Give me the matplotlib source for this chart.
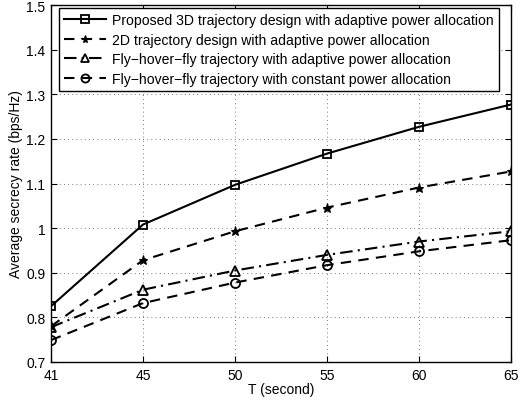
import numpy as np
import matplotlib
matplotlib.use('Agg')
import matplotlib.pyplot as plt

plt.rcParams['font.family'] = ['Liberation Sans', 'DejaVu Sans']

# slot durations T (equally spaced on the axis)
t_labels = ['41', '45', '50', '55', '60', '65']

rate_proposed_3d = [0.825, 1.008, 1.097, 1.167, 1.227, 1.277]
rate_2d = [0.780, 0.928, 0.993, 1.046, 1.091, 1.127]
rate_fhf_adaptive = [0.778, 0.862, 0.905, 0.940, 0.970, 0.993]
rate_fhf_constant = [0.749, 0.832, 0.878, 0.917, 0.948, 0.973]

series_labels = ['Proposed 3D trajectory design with adaptive power allocation',
                 '2D trajectory design with adaptive power allocation',
                 'Fly\u2212hover\u2212fly trajectory with adaptive power allocation',
                 'Fly\u2212hover\u2212fly trajectory with constant power allocation']

x = np.arange(len(t_labels))

fig = plt.figure(figsize=(5.2, 4.06), dpi=100)
# axes box: left 51px, right 511px, top 6px, bottom 363px
ax = fig.add_axes([51 / 520, 1 - 363 / 406, 460 / 520, 357 / 406])

ax.plot(x, rate_proposed_3d, color='k', lw=1.5, ls='-', marker='s', ms=6,
        mfc='none', mew=1.3, label=series_labels[0])
ax.plot(x, rate_2d, color='k', lw=1.5, ls=(0, (5, 3.5)), marker='*', ms=6.5,
        mfc='k', mew=0.8, label=series_labels[1])
ax.plot(x, rate_fhf_adaptive, color='k', lw=1.5, ls=(0, (6, 2.5, 1, 2.5)), marker='^', ms=7,
        mfc='none', mew=1.3, label=series_labels[2])
ax.plot(x, rate_fhf_constant, color='k', lw=1.5, ls=(0, (5, 3.5)), marker='o', ms=6.5,
        mfc='none', mew=1.3, label=series_labels[3])

ax.set_xlim(0, len(t_labels) - 1)
ax.set_ylim(0.7, 1.5)
ax.set_xticks(x)
ax.set_xticklabels(t_labels)
ax.set_yticks(np.arange(0.7, 1.51, 0.1))
ax.set_yticklabels(['0.7', '0.8', '0.9', '1', '1.1', '1.2', '1.3', '1.4', '1.5'])
ax.tick_params(direction='in', top=True, right=True, labelsize=10, length=4, pad=4)
ax.grid(True, ls=(0, (1, 4)), color='k', lw=0.6, alpha=0.7)
for s in ax.spines.values():
    s.set_linewidth(1.0)

ax.set_xlabel('T (second)', fontsize=10, labelpad=0)
ax.set_ylabel('Average secrecy rate (bps/Hz)', fontsize=10, labelpad=2)

leg = ax.legend(loc='upper left', bbox_to_anchor=(8 / 460, 1 - 3 / 357), fontsize=10.1,
                frameon=True, fancybox=False, edgecolor='k', framealpha=1,
                borderaxespad=0, handlelength=3.0, labelspacing=0.4, borderpad=0.35,
                handletextpad=0.45, markerscale=0.9)
leg.get_frame().set_linewidth(1.0)

fig.savefig('out.png', dpi=100)
